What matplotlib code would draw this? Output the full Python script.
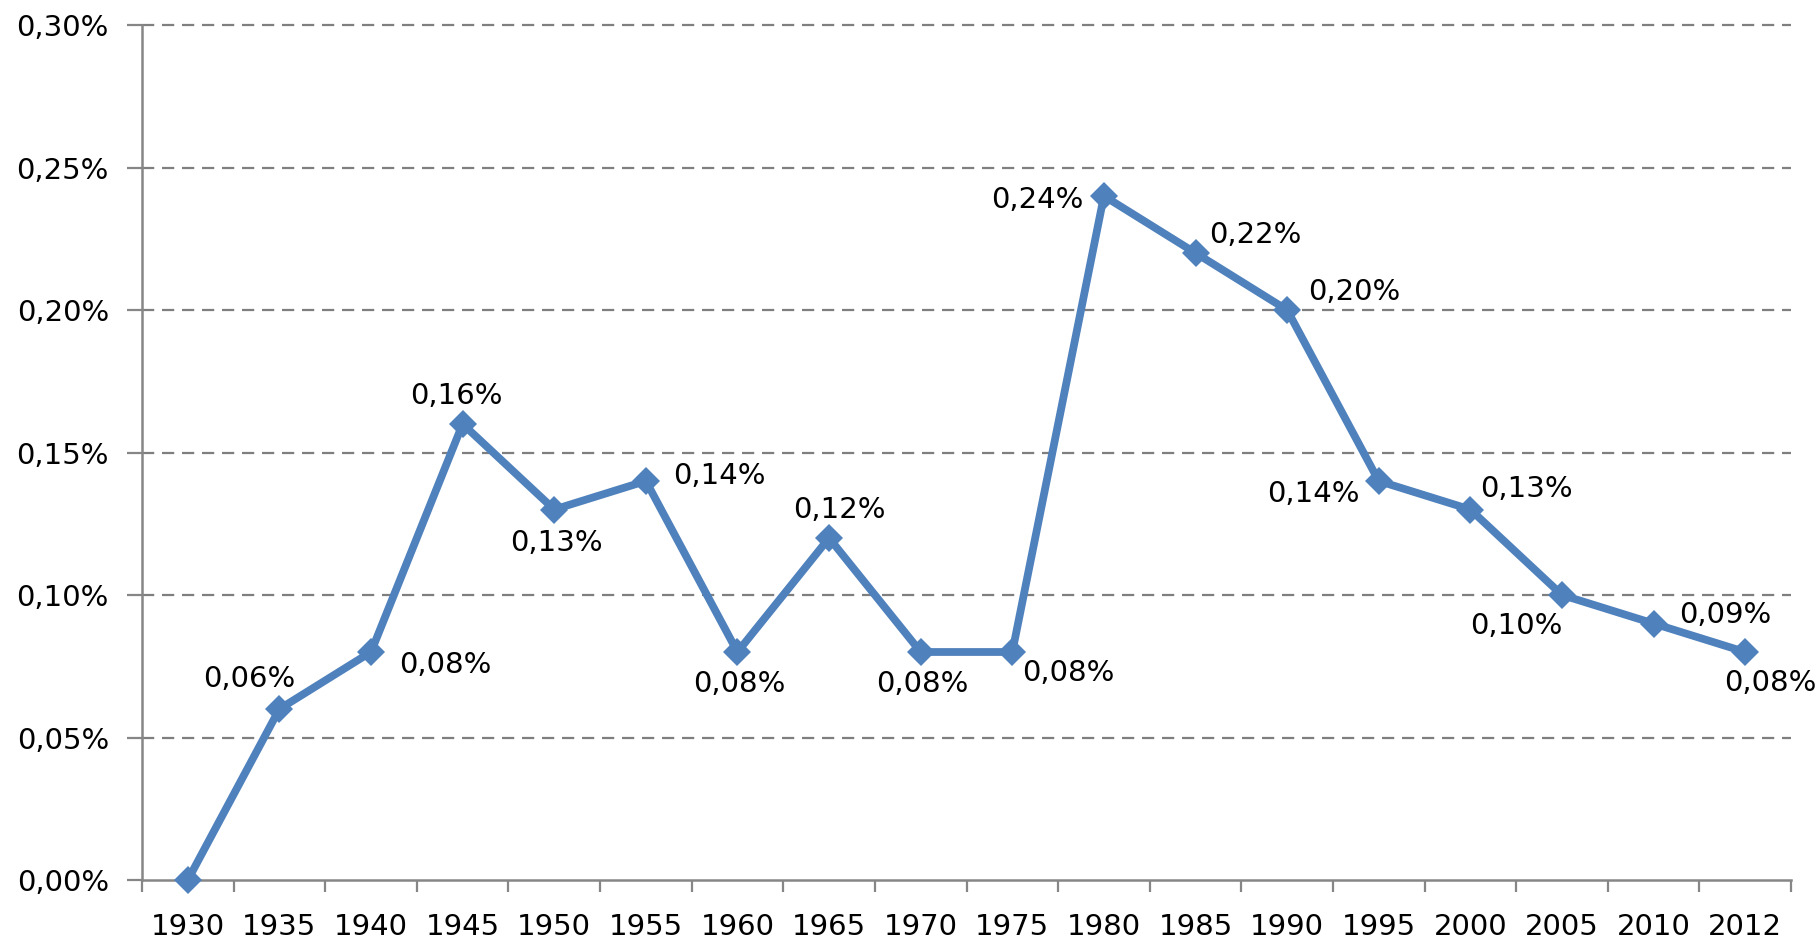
import numpy as np
import matplotlib
matplotlib.use("Agg")
import matplotlib.pyplot as plt

# ---- data ----
years = ["1930", "1935", "1940", "1945", "1950", "1955", "1960", "1965", "1970",
         "1975", "1980", "1985", "1990", "1995", "2000", "2005", "2010", "2012"]
values = [0.00, 0.06, 0.08, 0.16, 0.13, 0.14, 0.08, 0.12, 0.08,
          0.08, 0.24, 0.22, 0.20, 0.14, 0.13, 0.10, 0.09, 0.08]
yticks = [0.00, 0.05, 0.10, 0.15, 0.20, 0.25, 0.30]

# label offsets in pixels (dx right, dy up); None = no label
label_offsets = [None, (-30, 30), (74, -13), (-6, 28), (2, -33), (74, 5),
                 (2, -32), (10, 28), (2, -32), (56, -21), (-67, -4), (60, 18),
                 (67, 18), (-65, -13), (56, 21), (-46, -31), (72, 9), (25, -31)]

def fmt(v):
    return f"{v:.2f}%".replace(".", ",")

plt.rcParams['font.family'] = ['DejaVu Sans']
W, H = 1819, 940
fig = plt.figure(figsize=(W / 100, H / 100), dpi=100)
ax = fig.add_axes([142 / W, (H - 880) / H, (1791 - 142) / W, (880 - 25) / H])

blue = "#4F81BD"
gray = "#868686"
fs = 21
x = np.arange(len(years))

ax.plot(x, values, color=blue, lw=5.6, marker="D", markersize=14.5,
        markeredgewidth=0, markerfacecolor=blue, solid_joinstyle="round",
        zorder=3, clip_on=False)

for xi, v, off in zip(x, values, label_offsets):
    if off is None:
        continue
    ax.annotate(fmt(v), (xi, v), xytext=off, textcoords="offset pixels",
                ha="center", va="center", fontsize=fs, color="#000000",
                annotation_clip=False)

ax.set_xlim(-0.5, len(years) - 0.5)
ax.set_ylim(0, 0.30)

ax.set_yticks(yticks)
ax.set_yticklabels([fmt(t) for t in yticks])
ax.yaxis.grid(True, color="#7f7f7f", lw=1.6, linestyle=(0, (5.5, 3.5)))
glines = ax.get_ygridlines()
for gl in glines:
    gl.set_clip_on(False)
glines[0].set_visible(False)
ax.set_axisbelow(True)

ax.set_xticks(np.arange(-0.5, len(years), 1.0))
ax.set_xticklabels([])
ax.set_xticks(x, labels=years, minor=True)

ax.tick_params(axis="x", which="major", direction="out", length=8.6, width=1.6, color=gray)
ax.tick_params(axis="x", which="minor", length=0, pad=24, labelsize=fs, labelcolor="#000000")
ax.tick_params(axis="y", which="major", direction="out", length=10.8, width=1.6,
               color=gray, pad=13, labelsize=fs, labelcolor="#000000")

for s in ["top", "right"]:
    ax.spines[s].set_visible(False)
for s in ["left", "bottom"]:
    ax.spines[s].set_color(gray)
    ax.spines[s].set_linewidth(1.8)
    ax.spines[s].set_zorder(2.5)

fig.savefig("out.png", dpi=100, facecolor="white")
